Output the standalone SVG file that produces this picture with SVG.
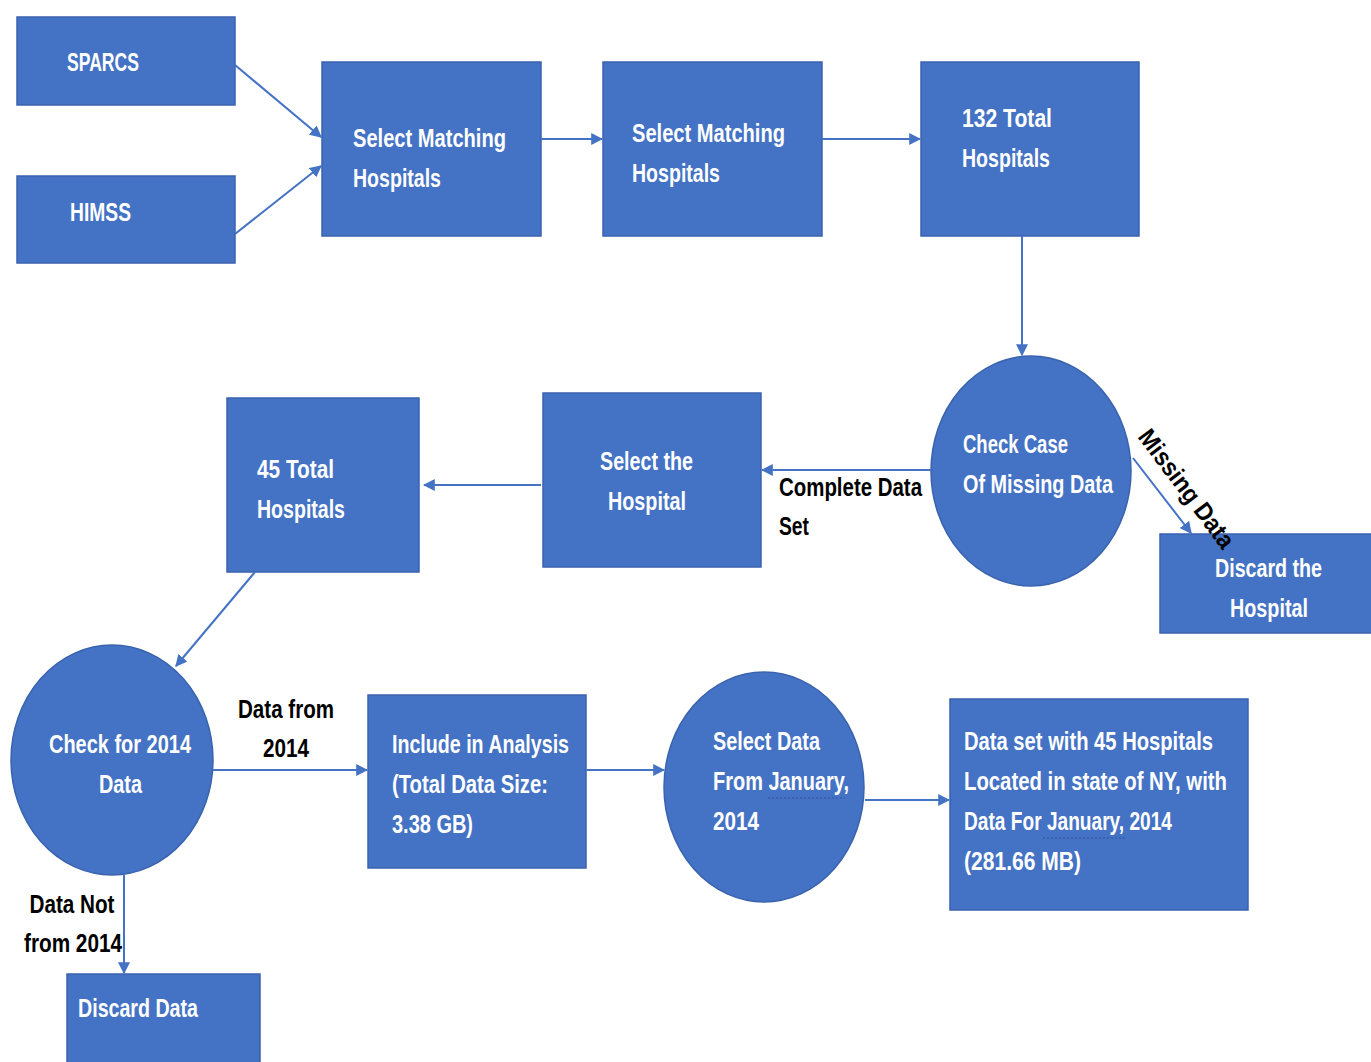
<svg xmlns="http://www.w3.org/2000/svg" width="1371" height="1062" viewBox="0 0 1371 1062">
<defs>
<marker id="ah" viewBox="0 0 10 10" refX="9" refY="5" markerWidth="6" markerHeight="6" orient="auto" markerUnits="strokeWidth">
<path d="M0,0 L10,5 L0,10 z" fill="#4472C4"/>
</marker>
<style>
.n{fill:#4472C4;stroke:#3A63AE;stroke-width:1.5}
.t{font-family:"Liberation Sans",Arial,sans-serif;font-size:25px;font-weight:bold;fill:#FFFFFF}
.l{font-family:"Liberation Sans",Arial,sans-serif;font-size:25px;font-weight:bold;fill:#000000}
.c{fill:none;stroke:#4472C4;stroke-width:2;marker-end:url(#ah)}
.u{fill:none;stroke:#2F5597;stroke-width:1.2;stroke-dasharray:2 2}
</style>
</defs>
<rect width="1371" height="1062" fill="#FFFFFF"/>
<g id="sparcs">
<rect class="n" x="17" y="17" width="218" height="88"/>
<text class="t" x="67" y="71" textLength="72" lengthAdjust="spacingAndGlyphs">SPARCS</text>
</g>
<g id="himss">
<rect class="n" x="17" y="176" width="218" height="87"/>
<text class="t" x="70" y="221" textLength="61" lengthAdjust="spacingAndGlyphs">HIMSS</text>
</g>
<g id="select-matching-1">
<rect class="n" x="322" y="62" width="219" height="174"/>
<text class="t" x="353" y="147" textLength="153" lengthAdjust="spacingAndGlyphs">Select Matching</text>
<text class="t" x="353" y="187" textLength="88" lengthAdjust="spacingAndGlyphs">Hospitals</text>
</g>
<g id="select-matching-2">
<rect class="n" x="603" y="62" width="219" height="174"/>
<text class="t" x="632" y="142" textLength="153" lengthAdjust="spacingAndGlyphs">Select Matching</text>
<text class="t" x="632" y="182" textLength="88" lengthAdjust="spacingAndGlyphs">Hospitals</text>
</g>
<g id="total-132">
<rect class="n" x="921" y="62" width="218" height="174"/>
<text class="t" x="962" y="127" textLength="90" lengthAdjust="spacingAndGlyphs">132 Total</text>
<text class="t" x="962" y="167" textLength="88" lengthAdjust="spacingAndGlyphs">Hospitals</text>
</g>
<g id="check-missing">
<ellipse class="n" cx="1031" cy="471" rx="100" ry="115"/>
<text class="t" x="963" y="453" textLength="105" lengthAdjust="spacingAndGlyphs">Check Case</text>
<text class="t" x="963" y="493" textLength="150" lengthAdjust="spacingAndGlyphs">Of Missing Data</text>
</g>
<g id="discard-hospital">
<rect class="n" x="1160" y="534" width="214" height="99"/>
<text class="t" x="1215" y="577" textLength="107" lengthAdjust="spacingAndGlyphs">Discard the</text>
<text class="t" x="1230" y="617" textLength="78" lengthAdjust="spacingAndGlyphs">Hospital</text>
</g>
<g id="select-hospital">
<rect class="n" x="543" y="393" width="218" height="174"/>
<text class="t" x="600" y="470" textLength="93" lengthAdjust="spacingAndGlyphs">Select the</text>
<text class="t" x="608" y="510" textLength="78" lengthAdjust="spacingAndGlyphs">Hospital</text>
</g>
<g id="total-45">
<rect class="n" x="227" y="398" width="192" height="174"/>
<text class="t" x="257" y="478" textLength="77" lengthAdjust="spacingAndGlyphs">45 Total</text>
<text class="t" x="257" y="518" textLength="88" lengthAdjust="spacingAndGlyphs">Hospitals</text>
</g>
<g id="check-2014">
<ellipse class="n" cx="112" cy="760" rx="101" ry="115"/>
<text class="t" x="49" y="753" textLength="142" lengthAdjust="spacingAndGlyphs">Check for 2014</text>
<text class="t" x="99" y="793" textLength="43" lengthAdjust="spacingAndGlyphs">Data</text>
</g>
<g id="include-analysis">
<rect class="n" x="368" y="695" width="218" height="173"/>
<text class="t" x="392" y="753" textLength="177" lengthAdjust="spacingAndGlyphs">Include in Analysis</text>
<text class="t" x="392" y="793" textLength="156" lengthAdjust="spacingAndGlyphs">(Total Data Size:</text>
<text class="t" x="392" y="833" textLength="81" lengthAdjust="spacingAndGlyphs">3.38 GB)</text>
</g>
<g id="select-january">
<ellipse class="n" cx="764" cy="787" rx="100" ry="115"/>
<text class="t" x="713" y="750" textLength="107" lengthAdjust="spacingAndGlyphs">Select Data</text>
<text class="t" x="713" y="790" textLength="136" lengthAdjust="spacingAndGlyphs">From January,</text>
<text class="t" x="713" y="830" textLength="46" lengthAdjust="spacingAndGlyphs">2014</text>
<path class="u" d="M768,798 L845,798"/>
</g>
<g id="dataset-45">
<rect class="n" x="950" y="699" width="298" height="211"/>
<text class="t" x="964" y="750" textLength="249" lengthAdjust="spacingAndGlyphs">Data set with 45 Hospitals</text>
<text class="t" x="964" y="790" textLength="263" lengthAdjust="spacingAndGlyphs">Located in state of NY, with</text>
<text class="t" x="964" y="830" textLength="208" lengthAdjust="spacingAndGlyphs">Data For January, 2014</text>
<text class="t" x="964" y="870" textLength="117" lengthAdjust="spacingAndGlyphs">(281.66 MB)</text>
<path class="u" d="M1043,838 L1126,838"/>
</g>
<g id="discard-data">
<rect class="n" x="67" y="974" width="193" height="92"/>
<text class="t" x="78" y="1017" textLength="120" lengthAdjust="spacingAndGlyphs">Discard Data</text>
</g>
<g id="connectors">
<line class="c" x1="235" y1="65" x2="321" y2="137"/>
<line class="c" x1="235" y1="234" x2="321" y2="166"/>
<line class="c" x1="541" y1="139" x2="602" y2="139"/>
<line class="c" x1="822" y1="139" x2="920" y2="139"/>
<line class="c" x1="1022" y1="236" x2="1022" y2="355"/>
<line class="c" x1="931" y1="470" x2="762" y2="470"/>
<line class="c" x1="1133" y1="458" x2="1191" y2="533"/>
<line class="c" x1="541" y1="485" x2="424" y2="485"/>
<line class="c" x1="255" y1="572" x2="176" y2="666"/>
<line class="c" x1="213" y1="770" x2="367" y2="770"/>
<line class="c" x1="586" y1="770" x2="664" y2="770"/>
<line class="c" x1="865" y1="800" x2="949" y2="800"/>
<line class="c" x1="124" y1="875" x2="124" y2="973"/>
<text class="l" x="779" y="496" textLength="143" lengthAdjust="spacingAndGlyphs">Complete Data</text>
<text class="l" x="779" y="535" textLength="30" lengthAdjust="spacingAndGlyphs">Set</text>
<text class="l" transform="translate(1137,437) rotate(53)" textLength="142" lengthAdjust="spacingAndGlyphs">Missing Data</text>
<text class="l" x="286" y="718" text-anchor="middle" textLength="96" lengthAdjust="spacingAndGlyphs">Data from</text>
<text class="l" x="286" y="757" text-anchor="middle" textLength="46" lengthAdjust="spacingAndGlyphs">2014</text>
<text class="l" x="72" y="913" text-anchor="middle" textLength="85" lengthAdjust="spacingAndGlyphs">Data Not</text>
<text class="l" x="73" y="952" text-anchor="middle" textLength="98" lengthAdjust="spacingAndGlyphs">from 2014</text>
</g>
</svg>
